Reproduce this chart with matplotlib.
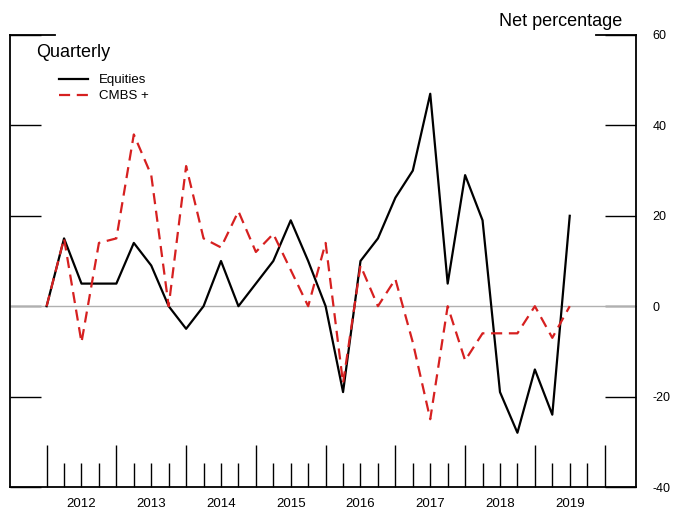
import numpy as np
import matplotlib.pyplot as plt

plt.rcParams["font.family"] = ["Liberation Sans", "DejaVu Sans"]
plt.rcParams["axes.unicode_minus"] = False

years = ["2012", "2013", "2014", "2015", "2016", "2017", "2018", "2019"]
equities = [0, 15, 5, 5, 5, 14, 9, 0, -5, 0, 10, 0, 5, 10, 19, 10, 0, -19,
            10, 15, 24, 30, 47, 5, 29, 19, -19, -28, -14, -24, 20]
cmbs = [0, 15, -8, 14, 15, 38, 29, 0, 31, 15, 13, 21, 12, 16, 8, 0, 14, -17,
        9, 0, 6, -8, -25, 0, -12, -6, -6, -6, 0, -7, 0]

fig = plt.figure(figsize=(6.76, 5.13), dpi=100)
ax = fig.add_axes([10/676, 1-487/513, 626/676, 452/513])
x = np.arange(len(equities))
ax.axhline(0, color="#b0b0b0", lw=1)
ax.plot(x, equities, "k-", lw=1.6, label="Equities")
ax.plot(x, cmbs, "--", color="#d62020", lw=1.6, dashes=(5, 3), label="CMBS +")
ax.set_xlim(-2.1, 33.8)
ax.set_ylim(-40, 60)

ax.spines["top"].set_visible(False)
for s in ["left", "right", "bottom"]:
    ax.spines[s].set_linewidth(1.3)
ax.plot([-2.1, 0.5], [60, 60], "k-", lw=1.3, clip_on=False)
ax.plot([31.5, 33.8], [60, 60], "k-", lw=1.3, clip_on=False)

ax.set_yticks([-40, -20, 0, 20, 40, 60])
ax.tick_params(axis="y", direction="in", length=22, width=1, left=True, right=True,
               labelleft=False, labelright=True, labelsize=9, pad=12)
ax.set_xticks(np.arange(0, 33, 4))
ax.set_xticks(np.arange(0, 33, 1), minor=True)
ax.tick_params(axis="x", which="major", direction="in", length=30, width=1, labelbottom=False)
ax.tick_params(axis="x", which="minor", direction="in", length=17, width=1)
for i, y in enumerate(years):
    ax.text(4*i + 2, -42.5, y, ha="center", va="top", fontsize=9.5)

ax.text(33.0, 61, "Net percentage", ha="right", va="bottom", fontsize=13)
ax.text(-0.6, 58, "Quarterly", ha="left", va="top", fontsize=13)
ax.legend(loc="upper left", bbox_to_anchor=(0.06, 0.94), frameon=False, fontsize=9.5,
          handlelength=2.2, labelspacing=0.3)
fig.savefig("out.png")
